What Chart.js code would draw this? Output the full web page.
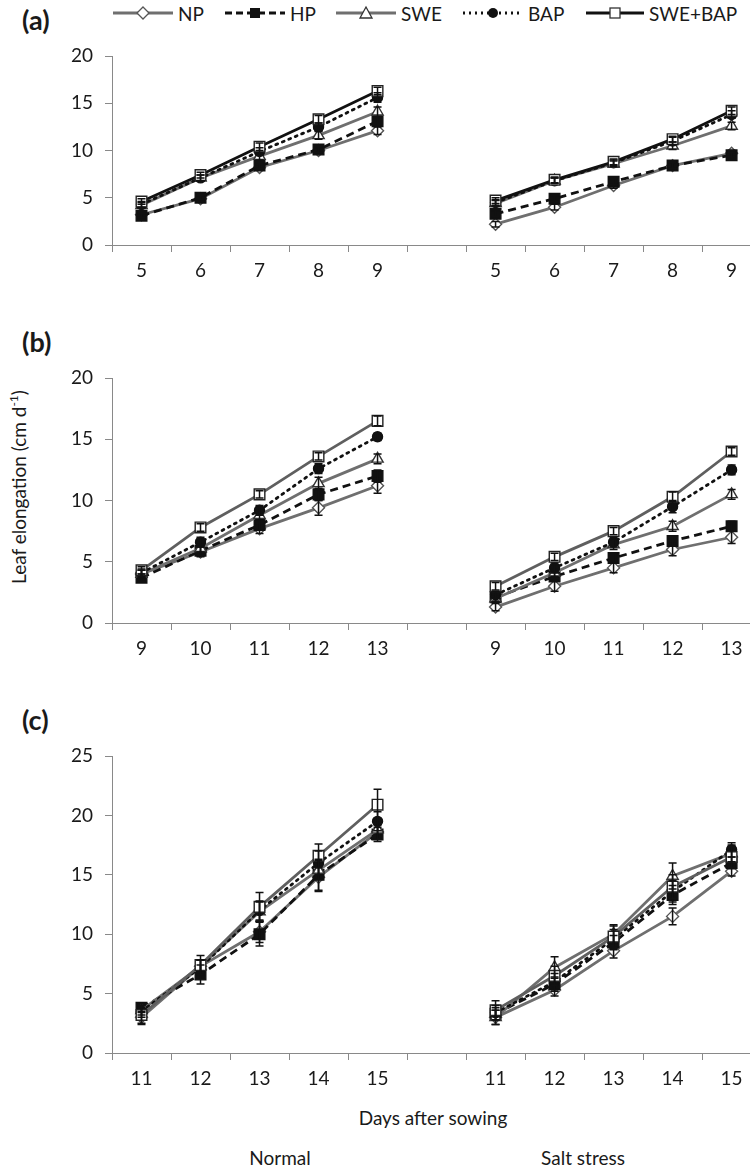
<!DOCTYPE html>
<html>
<head>
<meta charset="utf-8">
<script src="https://cdn.jsdelivr.net/npm/chart.js@4.4.0/dist/chart.umd.min.js"></script>
<style>
  html, body { margin: 0; padding: 0; background: #fff; }
  body { width: 750px; height: 1169px; position: relative; overflow: hidden; font-family: Lato, sans-serif; color: #1a1a1a; }
  canvas { position: absolute; left: 0; }
  .panel { position: absolute; left: 22px; font-weight: bold; font-size: 27px; line-height: 1; }
  .lg { position: absolute; top: 2px; height: 22px; display: flex; align-items: center; font-size: 19px; white-space: nowrap; }
  .lg svg { margin-right: 5px; }
  .txt { position: absolute; font-size: 19px; white-space: nowrap; transform: translate(-50%, -50%); }
  .ytitle { position: absolute; left: 18px; top: 487px; font-size: 19px; white-space: nowrap; transform: translate(-50%, -50%) rotate(-90deg); }
  .ytitle sup { font-size: 12px; }
</style>
</head>
<body>

<div class="panel" style="top:6px">(a)</div>
<div class="panel" style="top:328px">(b)</div>
<div class="panel" style="top:706px">(c)</div>

<div class="lg" style="left:113px">
  <svg width="60" height="16"><line x1="0" y1="8" x2="60" y2="8" stroke="#6f6f6f" stroke-width="3"/><polygon points="30,2 36,8 30,14 24,8" fill="#fff" stroke="#555" stroke-width="1.3"/></svg>NP</div>
<div class="lg" style="left:225px">
  <svg width="60" height="16"><line x1="0" y1="8" x2="60" y2="8" stroke="#111" stroke-width="3" stroke-dasharray="7,4"/><rect x="25" y="3" width="10" height="10" fill="#111"/></svg>HP</div>
<div class="lg" style="left:336px">
  <svg width="60" height="16"><line x1="0" y1="8" x2="60" y2="8" stroke="#6f6f6f" stroke-width="3"/><polygon points="30,2 36,13 24,13" fill="#fff" stroke="#333" stroke-width="1.3"/></svg>SWE</div>
<div class="lg" style="left:463px">
  <svg width="60" height="16"><line x1="0" y1="8" x2="60" y2="8" stroke="#111" stroke-width="3" stroke-dasharray="2,4"/><circle cx="30" cy="8" r="5" fill="#111"/></svg>BAP</div>
<div class="lg" style="left:586px">
  <svg width="58" height="16"><line x1="0" y1="8" x2="58" y2="8" stroke="#111" stroke-width="3"/><rect x="24" y="3" width="10" height="10" fill="#fff" stroke="#333" stroke-width="1.3"/></svg>SWE+BAP</div>

<div class="ytitle">Leaf elongation (cm d<sup>-1</sup>)</div>
<div class="txt" style="left:433px; top:1117px">Days after sowing</div>
<div class="txt" style="left:280px; top:1157px">Normal</div>
<div class="txt" style="left:583px; top:1157px">Salt stress</div>

<canvas id="chartA" width="770" height="253" style="top:32px"></canvas>
<canvas id="chartB" width="770" height="309" style="top:354px"></canvas>
<canvas id="chartC" width="770" height="361" style="top:732px"></canvas>

<script>
// Normal (5 days) | gap | Salt stress (5 days)
const daysA = ["5", "6", "7", "8", "9", "", "5", "6", "7", "8", "9"];
const daysB = ["9", "10", "11", "12", "13", "", "9", "10", "11", "12", "13"];
const daysC = ["11", "12", "13", "14", "15", "", "11", "12", "13", "14", "15"];

const seriesNames = ["NP", "HP", "SWE", "BAP", "SWE+BAP"];

// panel (a)
const aNP  = [3.2, 4.9, 8.2, 10.0, 12.1, null, 2.2, 4.0, 6.3, 8.4, 9.7];
const aHP  = [3.1, 5.0, 8.4, 10.1, 13.1, null, 3.3, 4.9, 6.7, 8.4, 9.5];
const aSWE = [4.2, 7.1, 9.4, 11.6, 14.1, null, 4.4, 6.8, 8.6, 10.5, 12.6];
const aBAP = [4.3, 7.1, 9.9, 12.5, 15.6, null, 4.5, 6.8, 8.7, 11.0, 13.8];
const aSB  = [4.6, 7.4, 10.4, 13.3, 16.3, null, 4.7, 6.9, 8.8, 11.2, 14.2];
const aNPerr  = [0.2, 0.3, 0.3, 0.3, 0.4, null, 0.3, 0.3, 0.3, 0.3, 0.3];
const aHPerr  = [0.2, 0.2, 0.3, 0.3, 0.4, null, 0.3, 0.3, 0.3, 0.3, 0.3];
const aSWEerr = [0.3, 0.3, 0.4, 0.4, 0.5, null, 0.3, 0.3, 0.3, 0.4, 0.4];
const aBAPerr = [0.3, 0.3, 0.4, 0.4, 0.5, null, 0.3, 0.3, 0.3, 0.4, 0.4];
const aSBerr  = [0.3, 0.3, 0.4, 0.4, 0.4, null, 0.3, 0.3, 0.3, 0.3, 0.4];

// panel (b)
const bNP  = [4.0, 5.8, 7.7, 9.4, 11.2, null, 1.3, 3.0, 4.5, 6.0, 7.0];
const bHP  = [3.7, 5.9, 8.0, 10.5, 12.0, null, 2.1, 3.8, 5.3, 6.7, 7.9];
const bSWE = [4.0, 6.1, 8.8, 11.4, 13.4, null, 2.0, 4.1, 6.4, 7.9, 10.5];
const bBAP = [4.1, 6.6, 9.2, 12.6, 15.2, null, 2.3, 4.5, 6.6, 9.5, 12.5];
const bSB  = [4.3, 7.8, 10.5, 13.6, 16.5, null, 3.0, 5.4, 7.5, 10.3, 14.0];
const bNPerr  = [0.3, 0.4, 0.4, 0.6, 0.6, null, 0.3, 0.4, 0.4, 0.5, 0.5];
const bHPerr  = [0.3, 0.4, 0.4, 0.5, 0.5, null, 0.3, 0.3, 0.4, 0.4, 0.4];
const bSWEerr = [0.3, 0.3, 0.4, 0.5, 0.4, null, 0.3, 0.3, 0.4, 0.4, 0.4];
const bBAPerr = [0.3, 0.4, 0.4, 0.4, 0.3, null, 0.3, 0.4, 0.4, 0.5, 0.4];
const bSBerr  = [0.3, 0.3, 0.3, 0.3, 0.4, null, 0.3, 0.3, 0.3, 0.4, 0.3];

// panel (c)
const cNP  = [3.0, 7.3, 10.2, 14.8, 18.6, null, 3.0, 5.3, 8.6, 11.5, 15.3];
const cHP  = [3.8, 6.6, 10.0, 15.0, 18.4, null, 3.3, 5.8, 9.3, 13.3, 16.0];
const cSWE = [3.6, 7.3, 11.9, 15.4, 18.8, null, 3.0, 7.2, 10.0, 14.9, 16.8];
const cBAP = [3.5, 7.2, 12.0, 16.0, 19.5, null, 3.4, 6.0, 9.6, 13.6, 17.1];
const cSB  = [3.2, 7.4, 12.3, 16.6, 20.9, null, 3.6, 6.5, 9.8, 14.0, 16.5];
const cNPerr  = [0.5, 0.5, 0.9, 1.2, 0.6, null, 0.6, 0.5, 0.6, 0.7, 0.4];
const cHPerr  = [0.4, 0.8, 1.0, 1.3, 0.6, null, 0.5, 0.6, 0.6, 0.8, 0.5];
const cSWEerr = [0.4, 0.5, 0.8, 0.8, 0.8, null, 0.6, 0.9, 0.8, 1.1, 0.7];
const cBAPerr = [0.5, 0.6, 0.8, 1.0, 0.8, null, 0.6, 0.7, 0.8, 0.9, 0.6];
const cSBerr  = [0.8, 0.8, 1.2, 1.0, 1.3, null, 0.8, 0.8, 0.9, 1.0, 0.9];

const GRAY = "#6f6f6f";
const AXIS = "#898989";
const INK = "#111";

function seriesStyle(i, comboColor) {
  const styles = [
    { borderColor: GRAY, pointStyle: "rectRot", pointRadius: 6, pointBackgroundColor: "#fff", pointBorderColor: "#555" },
    { borderColor: INK, borderDash: [8, 5], pointStyle: "rect", pointRadius: 7.5, pointBackgroundColor: INK, pointBorderColor: INK },
    { borderColor: GRAY, pointStyle: "triangle", pointRadius: 6.5, pointBackgroundColor: "#fff", pointBorderColor: "#333" },
    { borderColor: INK, borderDash: [2, 5], borderCapStyle: "round", pointStyle: "circle", pointRadius: 5, pointBackgroundColor: INK, pointBorderColor: INK },
    { borderColor: comboColor, pointStyle: "rect", pointRadius: 7.5, pointBackgroundColor: "#fff", pointBorderColor: "#222" },
  ];
  return styles[i];
}

const errorBars = {
  id: "errorBars",
  afterDatasetsDraw(chart) {
    const { ctx, scales } = chart;
    ctx.save();
    ctx.strokeStyle = INK;
    ctx.lineWidth = 1.5;
    chart.data.datasets.forEach((ds) => {
      ds.data.forEach((v, i) => {
        const e = ds.errors[i];
        if (v === null || e === null) return;
        const x = scales.x.getPixelForValue(i);
        const y1 = scales.y.getPixelForValue(v - e);
        const y2 = scales.y.getPixelForValue(v + e);
        ctx.beginPath();
        ctx.moveTo(x, y1); ctx.lineTo(x, y2);
        ctx.moveTo(x - 4, y1); ctx.lineTo(x + 4, y1);
        ctx.moveTo(x - 4, y2); ctx.lineTo(x + 4, y2);
        ctx.stroke();
      });
    });
    ctx.restore();
  },
};

function makePanel(canvasId, labels, values, errors, yMax, comboColor) {
  const ctx = document.getElementById(canvasId).getContext("2d");
  return new Chart(ctx, {
    type: "line",
    data: {
      labels,
      datasets: values.map((data, i) => Object.assign({
        label: seriesNames[i],
        data,
        errors: errors[i],
        borderWidth: 2.8,
        pointBorderWidth: 1.4,
        tension: 0,
        spanGaps: false,
        order: 5 - i,
      }, seriesStyle(i, comboColor))),
    },
    options: {
      responsive: false,
      animation: false,
      devicePixelRatio: 1,
      // top padding covers the y tick label half-height plus tick padding
      layout: { padding: { top: 24, right: 4, left: 0, bottom: 0 } },
      plugins: { legend: { display: false }, tooltip: { enabled: false } },
      scales: {
        x: {
          offset: true,
          grid: { drawOnChartArea: false, offset: true, tickLength: 7, color: AXIS },
          border: { color: AXIS, width: 1 },
          ticks: { color: "#1a1a1a", padding: 7, maxRotation: 0, autoSkip: false, font: { family: "Lato", size: 19 } },
          afterFit(scale) { scale.height = 40; },
        },
        y: {
          min: 0,
          max: yMax,
          grid: { drawOnChartArea: false, tickLength: 7, color: AXIS },
          border: { color: AXIS, width: 1 },
          ticks: { stepSize: 5, color: "#1a1a1a", padding: 12, font: { family: "Lato", size: 19 } },
          afterFit(scale) { scale.width = 112; },
        },
      },
    },
    plugins: [errorBars],
  });
}

makePanel("chartA", daysA, [aNP, aHP, aSWE, aBAP, aSB], [aNPerr, aHPerr, aSWEerr, aBAPerr, aSBerr], 20, INK);
makePanel("chartB", daysB, [bNP, bHP, bSWE, bBAP, bSB], [bNPerr, bHPerr, bSWEerr, bBAPerr, bSBerr], 20, "#5f5f5f");
makePanel("chartC", daysC, [cNP, cHP, cSWE, cBAP, cSB], [cNPerr, cHPerr, cSWEerr, cBAPerr, cSBerr], 25, "#5f5f5f");
</script>
</body>
</html>
